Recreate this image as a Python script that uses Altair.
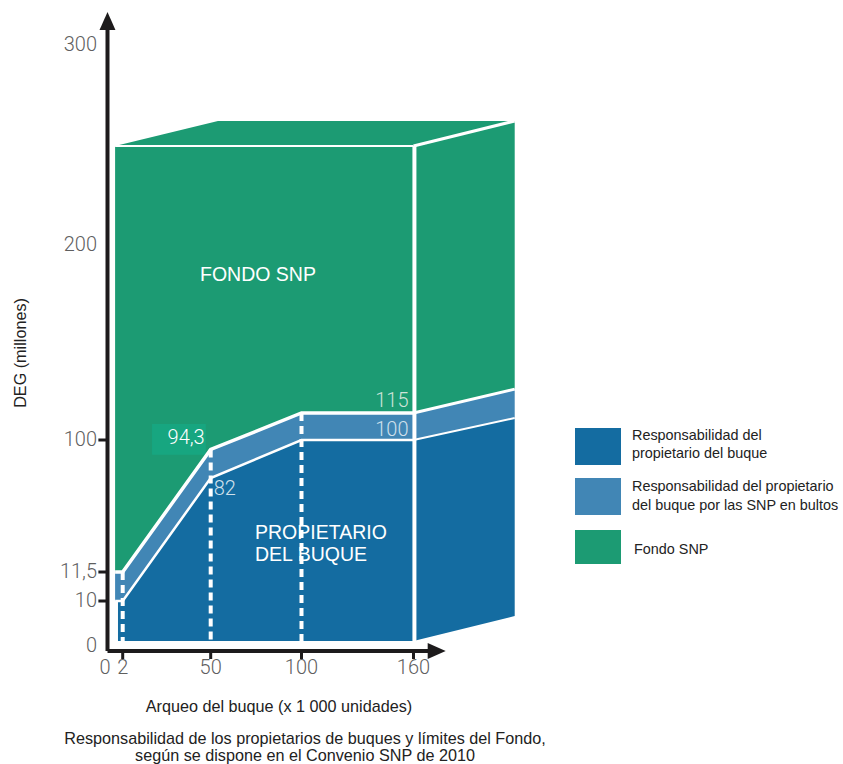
import altair as alt
import pandas as pd

# Break points of the schematic axes: tonnage (x 1 000 units) and SDR (millions)
x_domain = [-14.14, 0, 2, 50, 100, 160, 393.4]
x_range = [0, 107.5, 122.7, 210.7, 301.5, 413.5, 843]
y_domain = [-30.75, 0, 10, 11.5, 82, 94.3, 100, 115, 200, 300, 322.5]
y_range = [764, 641, 601, 572, 478, 449.5, 440, 413, 245, 45, 0]

# Front face of the block
tonnage = [1, 2, 50, 100, 160]
owner_limit = [10, 10, 82, 100, 100]
packaged_limit = [11.5, 11.5, 94.3, 115, 115]
fund_limit = [249.5, 249.5, 249.5, 249.5, 249.5]
baseline = [0, 0, 0, 0, 0]
owner_tonnage = [1.38, 2, 50, 100, 160]

# Side face of the block
side_x = [160, 215]
side_base = [0, 6.25]
side_owner = [100, 112.2]
side_packaged = [115, 127.1]
side_fund = [249.5, 262]

# Top face of the block
top_x = [1, 54, 160, 215]
top_low = [249.5, 249.5, 249.5, 262]
top_high = [249.5, 262, 262, 262]

NAVY = "#146CA1"
STEEL = "#4186B5"
GREEN = "#1C9B73"
BADGE = "#17A680"
AXIS = "#1d1b1c"
TICK_GREY = "#5f5f5f"
SANS = "Liberation Sans"
LIGHT = "Roboto"

series = ["Responsabilidad del propietario del buque",
          "Responsabilidad del propietario del buque por las SNP en bultos",
          "Fondo SNP"]
series_scale = alt.Scale(domain=series, range=[NAVY, STEEL, GREEN])

x_scale = alt.Scale(domain=x_domain, range=x_range, nice=False, zero=False)
y_scale = alt.Scale(domain=y_domain, range=y_range, nice=False, zero=False)
X = alt.X("x:Q", scale=x_scale, axis=None, title=None)
Y = alt.Y("y:Q", scale=y_scale, axis=None, title=None)
X2 = alt.X2("x2:Q")
Y2 = alt.Y2("y2:Q")


def band(xs, low, high, colour):
    frame = pd.DataFrame({"x": xs, "y": high, "y2": low})
    return alt.Chart(frame).mark_area(color=colour, interpolate="linear").encode(x=X, y=Y, y2=Y2)


def line(xs, ys, width, colour="white"):
    frame = pd.DataFrame({"x": xs, "y": ys})
    return alt.Chart(frame).mark_line(color=colour, strokeWidth=width, strokeCap="butt",
                                      interpolate="linear").encode(x=X, y=Y, order="x:Q")


def dashed_drop(at, top):
    frame = pd.DataFrame({"x": [at], "y": [top], "y2": [0]})
    return alt.Chart(frame).mark_rule(color="white", strokeWidth=4,
                                      strokeDash=[8, 5]).encode(x=X, y=Y, y2=Y2)


def value_label(x, y, text, align, dx, dy, colour, size=20):
    frame = pd.DataFrame({"x": [x], "y": [y], "label": [text]})
    return alt.Chart(frame).mark_text(align=align, baseline="middle", dx=dx, dy=dy, font=LIGHT,
                                      fontWeight=300, fontSize=size, color=colour).encode(
        x=X, y=Y, text="label:N")


def caption(text, px, py, size=16.2, align="center", colour="#222222", angle=0):
    return alt.Chart(pd.DataFrame({"label": [text]})).mark_text(
        align=align, baseline="middle", font=SANS, fontSize=size, color=colour, angle=angle
    ).encode(x=alt.value(px), y=alt.value(py), text="label:N")


def swatch(name, top, bottom):
    frame = pd.DataFrame({"serie": [name]})
    return alt.Chart(frame).mark_rect().encode(
        x=alt.value(575), x2=alt.value(621), y=alt.value(top), y2=alt.value(bottom),
        color=alt.Color("serie:N", scale=series_scale, legend=None))


layers = [
    # Block faces
    band(tonnage, packaged_limit, fund_limit, GREEN),
    band(tonnage, owner_limit, packaged_limit, STEEL),
    band(owner_tonnage, baseline, owner_limit, NAVY),
    band(side_x, side_packaged, side_fund, GREEN),
    band(side_x, side_owner, side_packaged, STEEL),
    band(side_x, side_base, side_owner, NAVY),
    band(top_x, top_low, top_high, GREEN),
]

# Badge behind the 94,3 value
badge = pd.DataFrame({"x": [18], "x2": [47.3], "y": [108.9], "y2": [92]})
layers.append(alt.Chart(badge).mark_rect(color=BADGE).encode(x=X, x2=X2, y=Y, y2=Y2))

# White edges of the block
layers += [
    line(tonnage, packaged_limit, 3.5),
    line(tonnage, owner_limit, 2.5),
    line([1, 160], [249.5, 249.5], 1.8),
    line(side_x, side_fund, 3),
    line(side_x, side_packaged, 3),
    line(side_x, side_owner, 2),
    dashed_drop(2, 11.5),
    dashed_drop(50, 94.3),
    dashed_drop(100, 115),
]
edge = pd.DataFrame({"x": [160.5], "y": [249.5], "y2": [0]})
layers.append(alt.Chart(edge).mark_rule(color="white", strokeWidth=4).encode(x=X, y=Y, y2=Y2))

# Axes with their arrow heads
y_axis = pd.DataFrame({"x": [0], "y": [307.5], "y2": [-2.5]})
x_axis = pd.DataFrame({"x": [0], "x2": [168], "y": [-2.5]})
layers.append(alt.Chart(y_axis).mark_rule(color=AXIS, strokeWidth=4).encode(x=X, y=Y, y2=Y2))
layers.append(alt.Chart(x_axis).mark_rule(color=AXIS, strokeWidth=4).encode(x=X, x2=X2, y=Y))

x_head = pd.DataFrame({"x": [167.7, 177.5], "y": [-0.5, -2.5], "y2": [-4.5, -2.5]})
layers.append(alt.Chart(x_head).mark_area(color=AXIS).encode(x=X, y=Y, y2=Y2))
y_head = pd.DataFrame({"y": [307.5, 316.5], "x": [-1.05, 0], "x2": [1.05, 0]})
layers.append(alt.Chart(y_head).mark_area(color=AXIS, orient="horizontal").encode(y=Y, x=X, x2=X2))

# Tick marks
x_ticks = [2, 50, 100, 160]
y_ticks = [10, 11.5, 100]
layers.append(alt.Chart(pd.DataFrame({"x": x_ticks})).mark_rule(color=AXIS, strokeWidth=3).encode(
    x=X, y=alt.YDatum(-2.5, scale=y_scale, axis=None, title=None), y2=alt.Y2Datum(-4.5)))
layers.append(alt.Chart(pd.DataFrame({"y": y_ticks})).mark_rule(color=AXIS, strokeWidth=3).encode(
    y=Y, x=alt.XDatum(-1.2, scale=x_scale, axis=None, title=None), x2=alt.X2Datum(0)))

# Tick labels
x_tick_text = ["0", "2", "50", "100", "160"]
x_tick_pos = [-0.33, 2, 50, 100, 160]
y_tick_text = ["0", "10", "11,5", "100", "200", "300"]
y_tick_pos = [-1.25, 10, 11.5, 100, 200, 300]
for pos, text in zip(x_tick_pos, x_tick_text):
    layers.append(value_label(pos, -6.75, text, "center", 0, 0, TICK_GREY))
for pos, text in zip(y_tick_pos, y_tick_text):
    layers.append(value_label(-1.38, pos, text, "right", 0, 0, TICK_GREY))

# Values written on the block
layers += [
    value_label(50, 94.3, "94,3", "right", -6, -12, "white"),
    value_label(50, 82, "82", "left", 3, 11, "#cfe0ec"),
    value_label(160, 115, "115", "right", -5, -12, "#cfe3d9"),
    value_label(160, 100, "100", "right", -5, -10, "#cfe0ec"),
]

# Region names
layers += [
    caption("FONDO SNP", 200, 275, 19.5, "left", "white"),
    caption("PROPIETARIO", 255, 533, 19.5, "left", "white"),
    caption("DEL BUQUE", 255, 555, 19.5, "left", "white"),
]

# Axis titles and footnote
layers += [
    caption("DEG (millones)", 20.5, 353, angle=270),
    caption("Arqueo del buque (x 1 000 unidades)", 279, 707),
    caption("Responsabilidad de los propietarios de buques y límites del Fondo,", 305, 739),
    caption("según se dispone en el Convenio SNP de 2010", 305, 755.5),
]

# Key
layers += [
    swatch(series[0], 428, 465),
    swatch(series[1], 478, 515),
    swatch(series[2], 530, 564),
    caption("Responsabilidad del", 632, 436, 14.4, "left"),
    caption("propietario del  buque", 632, 454, 14.4, "left"),
    caption("Responsabilidad del propietario", 632, 487, 14.4, "left"),
    caption("del buque por las SNP en bultos", 632, 506, 14.4, "left"),
    caption("Fondo SNP", 634, 550, 14.4, "left"),
]

chart = alt.layer(*layers).properties(
    width=843, height=764, padding=0, background="white", autosize=alt.AutoSizeParams(type="none")
).configure_view(stroke=None)

chart.save("out.html", embed_options={"renderer": "svg", "actions": False})
